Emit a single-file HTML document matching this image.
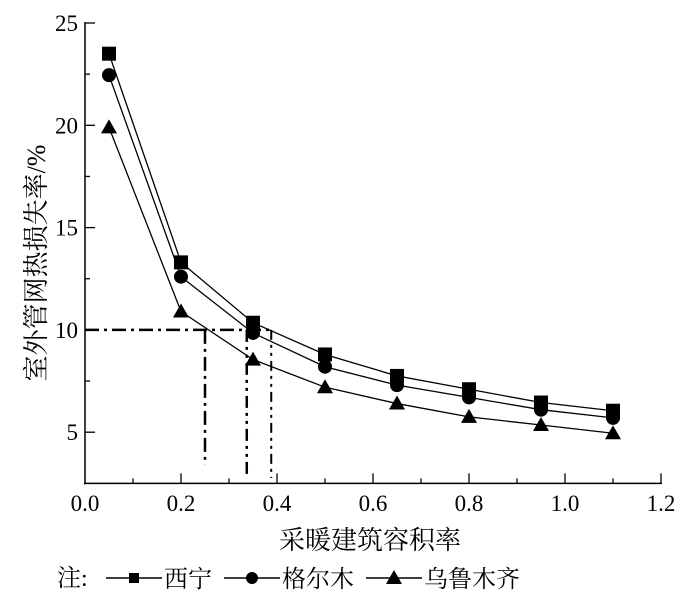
<!DOCTYPE html>
<html><head><meta charset="utf-8"><style>
body{margin:0;background:#fff;width:700px;height:591px;overflow:hidden}
svg text{font-family:"Liberation Serif","Noto Serif CJK SC",serif;fill:#000}
</style></head><body>
<svg id="chart" width="700" height="591" xmlns="http://www.w3.org/2000/svg"></svg>
<script>
const xVals=[0.05,0.2,0.35,0.5,0.65,0.8,0.95,1.1];
const xining=[23.5,13.3,10.35,8.8,7.75,7.1,6.45,6.05];
const geermu=[22.45,12.6,9.85,8.2,7.3,6.7,6.1,5.7];
const wulumuqi=[19.9,10.9,8.55,7.2,6.4,5.75,5.35,4.95];
const xTicks=[0,0.2,0.4,0.6,0.8,1.0,1.2];
const xTickLabels=["0.0","0.2","0.4","0.6","0.8","1.0","1.2"];
const yTicks=[5,10,15,20,25];
const refY=10;
const refX=[0.25,0.337,0.388];
const NS="http://www.w3.org/2000/svg";
const svg=document.getElementById('chart');
const X=v=>85+v*(576/1.2);
const Y=v=>23+(25-v)*(102.3/5);
function el(t,a,p){const e=document.createElementNS(NS,t);for(const k in a)e.setAttribute(k,a[k]);(p||svg).appendChild(e);return e;}
const axes=el('g',{});


el('line',{x1:85,y1:Y(2.5)+1,x2:85,y2:22,stroke:'#000','stroke-width':1.5},axes);
el('line',{x1:84,y1:Y(2.5),x2:X(1.2)+1,y2:Y(2.5),stroke:'#000','stroke-width':1.5},axes);
for(let v=0.1;v<1.21;v+=0.1){const big=Math.abs(v*5-Math.round(v*5))<1e-6;el('line',{x1:X(v),x2:X(v),y1:Y(2.5),y2:Y(2.5)-(big?10:5),stroke:'#000','stroke-width':1.3},axes);}
for(let v=5;v<=25;v+=2.5){const big=v%5===0;el('line',{x1:85,x2:85+(big?10:5),y1:Y(v),y2:Y(v),stroke:'#000','stroke-width':1.3},axes);}
xTicks.forEach((v,i)=>{const t=el('text',{x:X(v),y:511,'font-size':23,'text-anchor':'middle'},axes);t.textContent=xTickLabels[i];

});
yTicks.forEach(v=>{const t=el('text',{x:78,y:Y(v)+8,'font-size':23,'text-anchor':'end'},axes);t.textContent=v;

});
const xt=el('text',{x:370,y:549,'font-size':26,'text-anchor':'middle'});xt.textContent='采暖建筑容积率';


const yt=el('text',{x:0,y:0,'font-size':26,'text-anchor':'middle',transform:'translate(45,263) rotate(-90)'});yt.textContent='室外管网热损失率/%';


const ref=el('g',{stroke:'#000','stroke-width':2.5,fill:'none'});


el('line',{x1:85,y1:Y(refY),x2:X(refX[2]),y2:Y(refY),'stroke-dasharray':'14,5,3,5'},ref);
el('line',{x1:X(refX[0]),y1:Y(refY),x2:X(refX[0]),y2:465,'stroke-dasharray':'14,5,3,5'},ref);
el('line',{x1:X(refX[1]),y1:Y(refY),x2:X(refX[1]),y2:478,'stroke-dasharray':'12,5,3,5,3,5'},ref);
el('line',{x1:X(refX[2]),y1:Y(refY),x2:X(refX[2]),y2:478,'stroke-dasharray':'10,5,3,5,3,5','stroke-width':2},ref);
function marker(g,type,x,y){
 if(type==='sq')return el('rect',{x:x-7,y:y-7,width:14,height:14,fill:'#000'},g);
 if(type==='ci')return el('circle',{cx:x,cy:y,r:7,fill:'#000'},g);
 return el('polygon',{points:`${x},${y-8} ${x-8},${y+6} ${x+8},${y+6}`,fill:'#000'},g);
}
[[xining,'sq','series-xining'],[geermu,'ci','series-geermu'],[wulumuqi,'tr','series-wulumuqi']].forEach(([d,m,n])=>{
 const g=el('g',{});
 
 
 el('polyline',{points:d.map((v,i)=>X(xVals[i])+','+Y(v)).join(' '),fill:'none',stroke:'#000','stroke-width':1.3},g);
 d.forEach((v,i)=>{const mk=marker(g,m,X(xVals[i]),Y(v));
 
 });
});
const lg=el('g',{});


const lt=el('text',{x:57,y:586,'font-size':24},lg);lt.textContent='注:';
[[106,'sq','西宁'],[224,'ci','格尔木'],[366,'tr','乌鲁木齐']].forEach(([x,m,s])=>{
 const e=el('g',{},lg);
 
 
 el('line',{x1:x,y1:578,x2:x+56,y2:578,stroke:'#000','stroke-width':1.5},e);
 const mk=marker(e,m,x+28,578);
 if(m==='sq'){mk.setAttribute('x',x+23);mk.setAttribute('y',573);mk.setAttribute('width',10);mk.setAttribute('height',10);}
 if(m==='ci')mk.setAttribute('r',6);
 const t=el('text',{x:x+58,y:587,'font-size':24},e);t.textContent=s;
});
</script>
</body></html>
